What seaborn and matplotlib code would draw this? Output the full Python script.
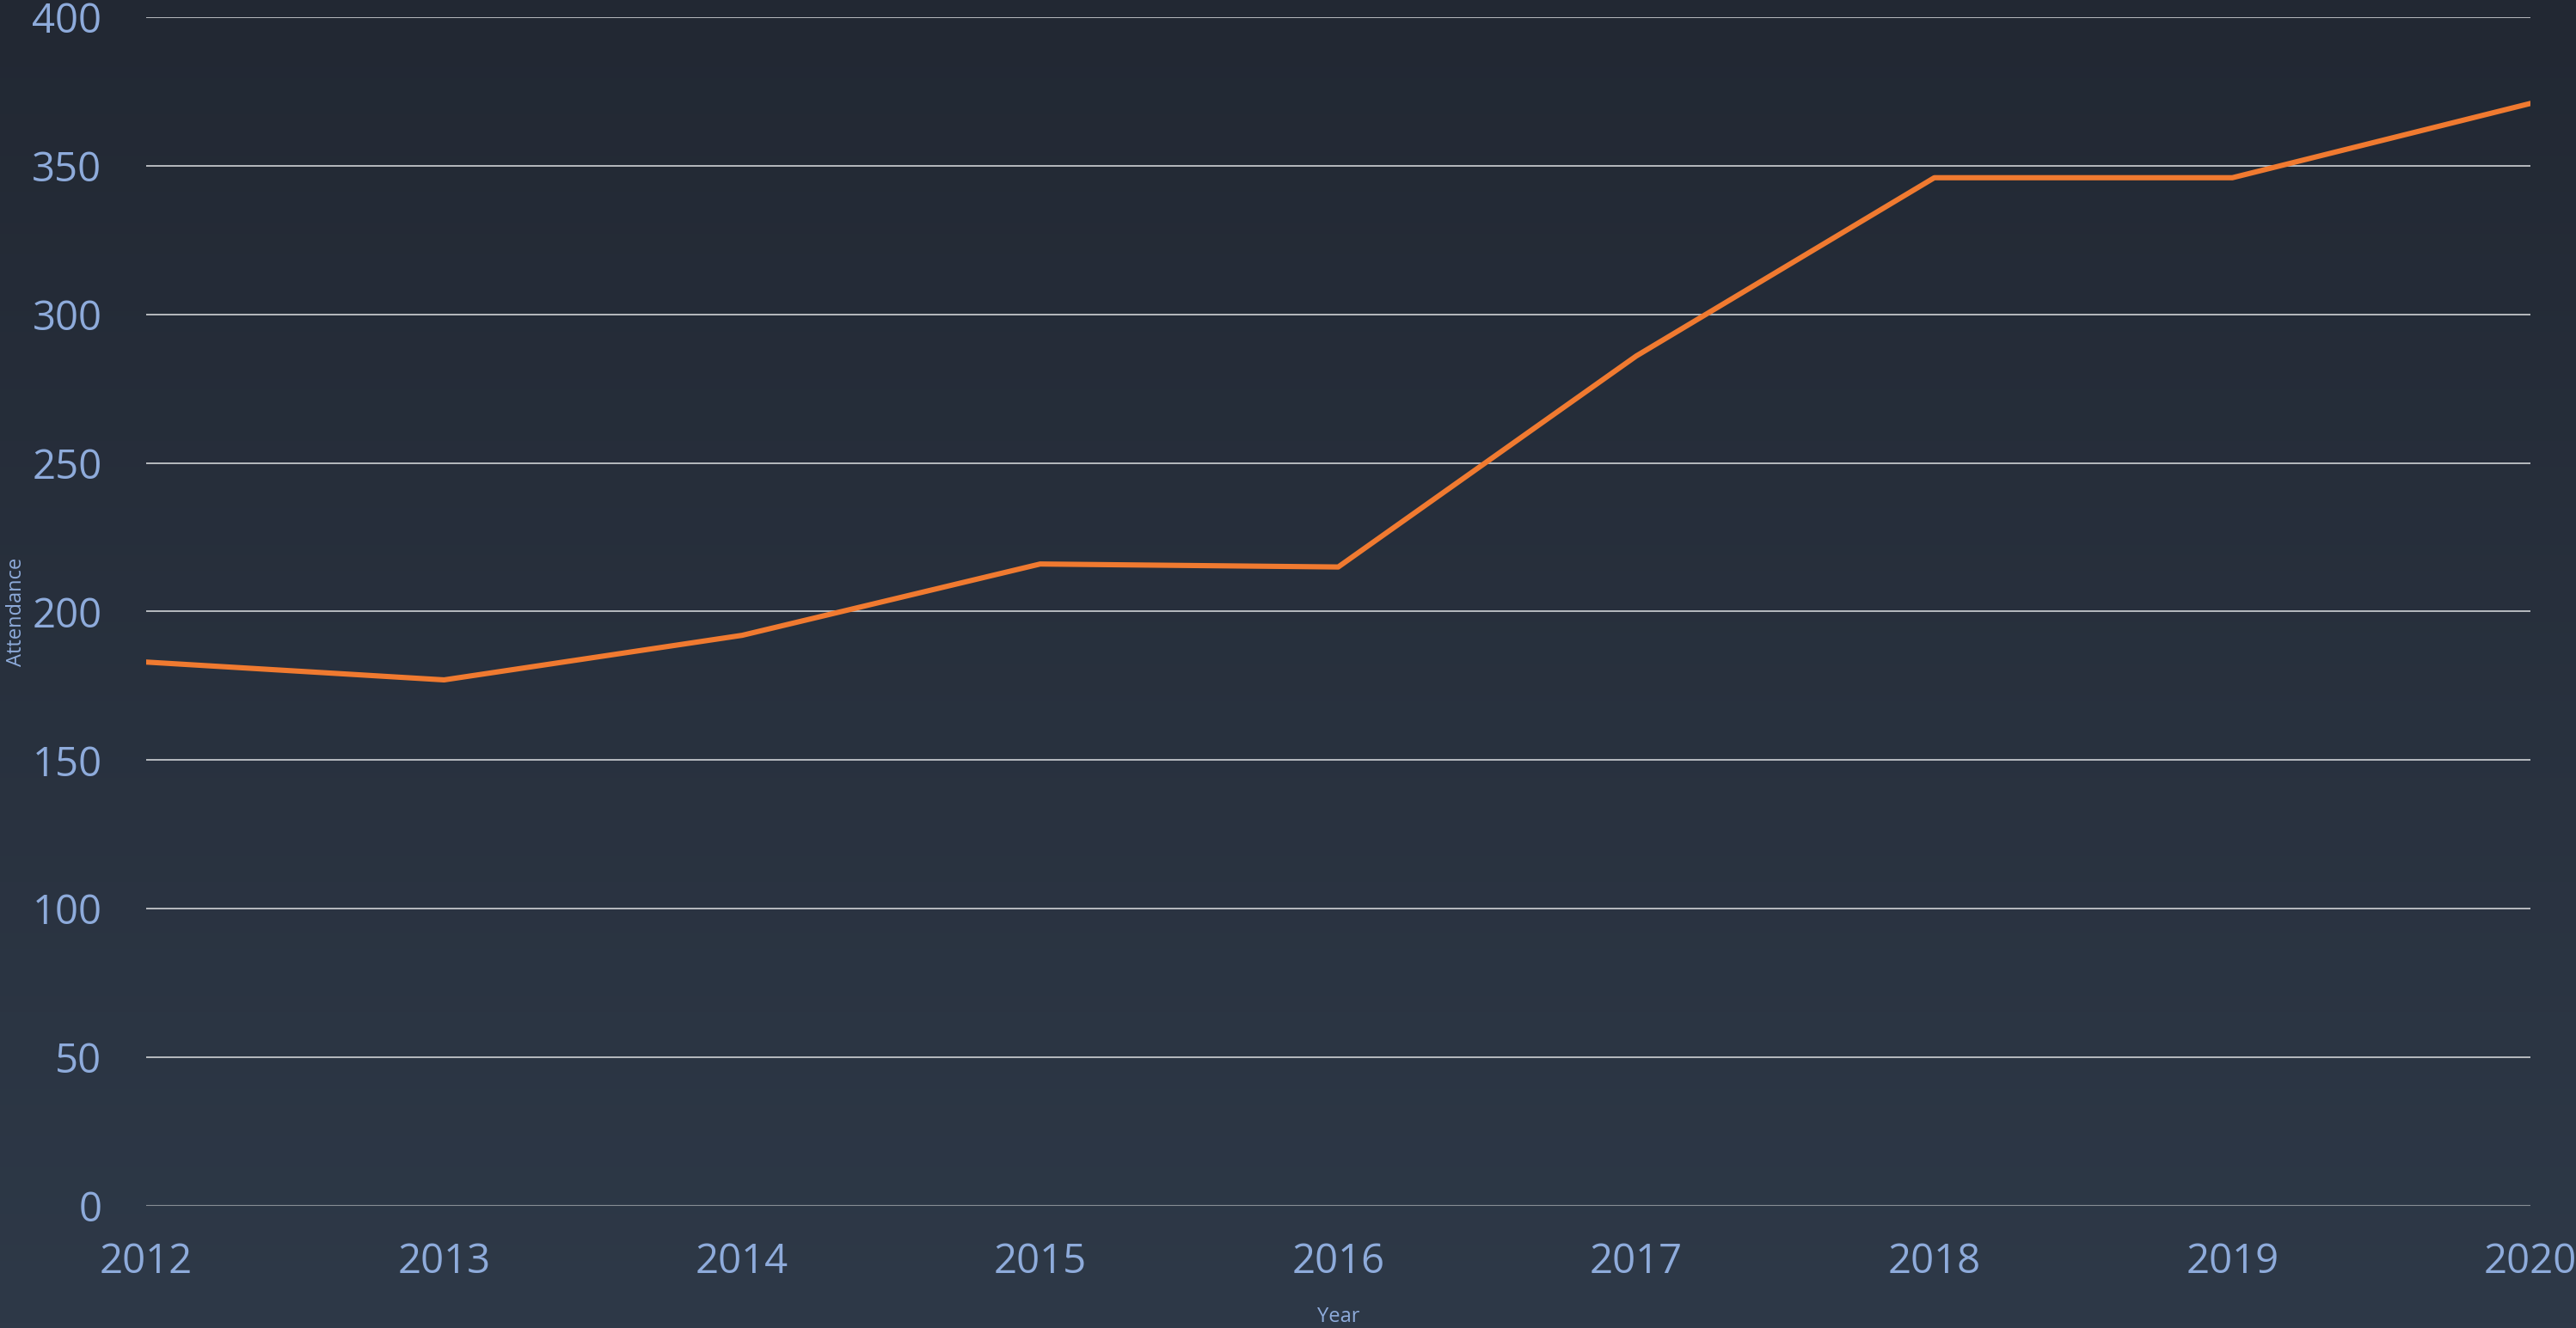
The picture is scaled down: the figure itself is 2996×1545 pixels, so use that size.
import numpy as np
import pandas as pd
import matplotlib
matplotlib.use("Agg")
import matplotlib.pyplot as plt
import seaborn as sns
from matplotlib.colors import LinearSegmentedColormap

### attendance per year
years = [2012, 2013, 2014, 2015, 2016, 2017, 2018, 2019, 2020]
attendance = [183, 177, 192, 216, 215, 286, 346, 346, 371]
y_ticks = [0, 50, 100, 150, 200, 250, 300, 350, 400]

df = pd.DataFrame({"Year": years, "Attendance": attendance})

sns.set_theme(style="dark")
plt.rcParams['font.family'] = ['Open Sans', 'DejaVu Sans']

label_col = "#8eabdb"
fig = plt.figure(figsize=(29.96, 15.45), dpi=100)

## gradient background on its own axes behind everything
bg = fig.add_axes([0, 0, 1, 1], zorder=0)
grad = np.linspace(0, 1, 256).reshape(-1, 1)
cmap = LinearSegmentedColormap.from_list("bg", ["#222833", "#2e3948"])
bg.imshow(grad, aspect="auto", cmap=cmap, extent=[0, 1, 1, 0])
bg.axis("off")

ax = fig.add_axes([0.0567, 0.092, 0.9256, 0.895], zorder=1)
ax.patch.set_alpha(0)

sns.lineplot(data=df, x="Year", y="Attendance", ax=ax, color="#f07a30",
             linewidth=4.4, zorder=3)

ax.set_xlim(2012, 2020)
ax.set_ylim(0, 400)
ax.set_xticks(years)
ax.set_yticks(y_ticks)
ax.grid(False)
for v in y_ticks[1:]:
    ax.axhline(v, color="#c3c6ca", linewidth=1.3, zorder=1)
ax.axhline(0, color="#868c94", linewidth=1.6, zorder=1)

for s in ax.spines.values():
    s.set_visible(False)

ax.tick_params(axis="y", length=0, pad=37, labelsize=34, labelcolor=label_col)
ax.tick_params(axis="x", length=0, pad=30, labelsize=34, labelcolor=label_col)

ax.set_xlabel("Year", fontsize=17, color=label_col)
ax.set_ylabel("Attendance", fontsize=17, color=label_col)
ax.xaxis.set_label_coords(0.5, -0.085)
ax.yaxis.set_label_coords(-0.05, 0.5)

fig.savefig("out.png", dpi=100)
